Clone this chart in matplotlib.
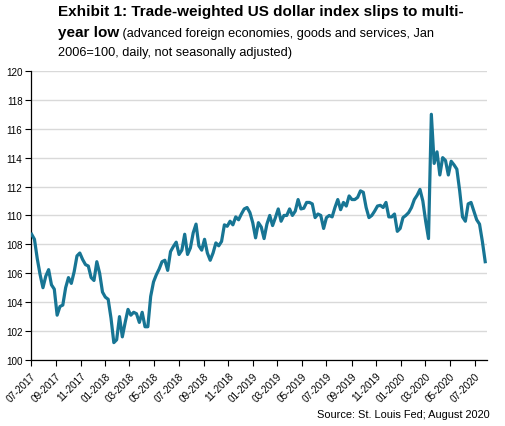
import numpy as np
import pandas as pd
import matplotlib
matplotlib.use('Agg')
import matplotlib.pyplot as plt
import matplotlib.dates as mdates

plt.rcParams['font.family'] = ['Liberation Sans', 'DejaVu Sans']

# weekly readings (Mondays) of the trade-weighted USD index, Jan 2006=100
usd_2017 = [108.7, 108.35, 107.0, 105.9, 105.0, 105.8, 106.25, 105.2, 104.9, 103.1,
            103.7, 103.8, 105.0, 105.7, 105.3, 106.1, 107.2, 107.4, 106.95, 106.6,
            106.5, 105.7, 105.5, 106.8, 106.0, 104.7]
usd_2018 = [104.35, 104.2, 102.9, 101.2, 101.4, 103.0, 101.6, 102.6, 103.5, 103.1,
            103.3, 103.2, 102.6, 103.3, 102.3, 102.3, 104.4, 105.4, 105.9, 106.3,
            106.8, 106.9, 106.2, 107.5, 107.85, 108.15, 107.3, 107.6, 108.7, 107.3,
            107.75, 108.8, 109.4, 107.9, 107.6, 108.35, 107.4, 106.9, 107.4, 108.1,
            107.9, 108.2, 109.35, 109.25, 109.6, 109.35, 109.9, 109.7, 110.1, 110.45,
            110.55, 110.2, 109.5]
usd_2019 = [108.45, 109.5, 109.2, 108.4, 109.4, 110.0, 109.3, 109.85, 110.45, 109.6,
            110.0, 110.0, 110.45, 110.0, 110.3, 111.1, 110.45, 110.5, 110.9, 110.9,
            110.8, 109.85, 110.1, 110.0, 109.1, 109.85, 110.0, 109.9, 110.55, 111.1,
            110.4, 110.9, 110.65, 111.35, 111.1, 111.1, 111.25, 111.7, 111.6, 110.55,
            109.85, 110.0, 110.3, 110.65, 110.7, 110.55, 110.9, 109.9, 109.9, 110.1,
            108.9, 109.1]
usd_2020 = [109.85, 110.0, 110.2, 110.55, 111.1, 111.4, 111.8, 111.0, 109.6, 108.4,
            117.0, 113.6, 114.4, 112.8, 114.0, 113.8, 112.8, 113.75, 113.5, 113.2,
            111.7, 109.9, 109.6, 110.8, 110.9, 110.3, 109.7, 109.4, 108.2, 106.8]

values = usd_2017 + usd_2018 + usd_2019 + usd_2020
dates = pd.date_range('2017-07-03', periods=len(values), freq='W-MON')

line_color = '#177594'

fig = plt.figure(figsize=(5.05, 4.27), dpi=100)
ax = fig.add_axes([0.061, 0.1546, 0.903, 0.677])

ax.plot(dates, values, color=line_color, lw=2.3, solid_joinstyle='round', zorder=3)

ax.set_ylim(100, 120)
ax.set_yticks(np.arange(100, 121, 2))
ax.set_xlim(pd.Timestamp('2017-07-01'), pd.Timestamp('2020-07-31'))
ax.set_xticks(pd.date_range('2017-07-01', '2020-07-01', freq='2MS'))
ax.xaxis.set_major_formatter(mdates.DateFormatter('%m-%Y'))

ax.grid(axis='y', color='#d9d9d9', lw=1.0)
ax.set_axisbelow(True)
for s in ['top', 'right']:
    ax.spines[s].set_visible(False)
for s in ['left', 'bottom']:
    ax.spines[s].set_color('black')
    ax.spines[s].set_linewidth(0.9)

ax.tick_params(axis='both', direction='out', length=4, width=0.8, colors='black', labelsize=7.1)
ax.tick_params(axis='y', pad=2)
for lab in ax.get_xticklabels():
    lab.set_rotation(45)
    lab.set_ha('right')
    lab.set_rotation_mode('anchor')

# title in three pieces
t1 = fig.text(58/505, 1 - 5/427, 'Exhibit 1: Trade-weighted US dollar index slips to multi-',
              fontsize=11, fontweight='bold', va='top', ha='left')
t2 = fig.text(58/505, 1 - 26/427, 'year low', fontsize=11, fontweight='bold', va='top', ha='left')
ax.annotate(' (advanced foreign economies, goods and services, Jan', xy=(1, 0), xycoords=t2,
            fontsize=9.2, va='bottom', ha='left')
fig.text(58/505, 1 - 47/427, '2006=100, daily, not seasonally adjusted)',
         fontsize=9.2, va='top', ha='left')

fig.text(490/505, 1 - 415/427, 'Source: St. Louis Fed; August 2020', fontsize=7.9,
         va='center', ha='right')

fig.savefig('out.png', dpi=100)
